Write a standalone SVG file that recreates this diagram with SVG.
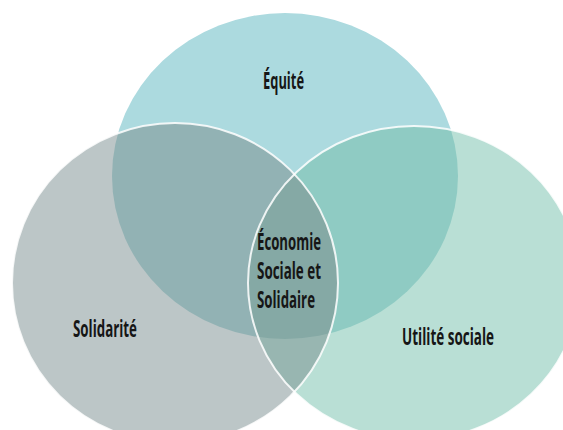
<svg xmlns="http://www.w3.org/2000/svg" width="563" height="430" viewBox="0 0 563 430">
  <style>
    .lbl { font-family: "Liberation Sans Narrow", "Open Sans", "Liberation Sans", sans-serif; font-weight: bold; font-size: 23px; fill: #161616; }
    .edge { fill: none; stroke: #ffffff; stroke-width: 2; stroke-opacity: 0.85; }
  </style>
  <defs>
    <clipPath id="clipTop"><ellipse cx="285" cy="176" rx="173" ry="163"/></clipPath>
    <clipPath id="clipLeft"><ellipse cx="175" cy="283" rx="163" ry="160"/></clipPath>
    <clipPath id="clipRight"><ellipse cx="414" cy="283" rx="166" ry="157"/></clipPath>
  </defs>
  <rect width="563" height="430" fill="#ffffff"/>

  <g id="node-equite">
    <ellipse cx="285" cy="176" rx="173" ry="163" fill="#ACDADF"/>
  </g>
  <g id="node-solidarite">
    <ellipse cx="175" cy="283" rx="163" ry="160" fill="#BCC6C7"/>
  </g>
  <g id="node-utilite-sociale">
    <ellipse cx="414" cy="283" rx="166" ry="157" fill="#B9DFD5"/>
  </g>

  <g id="overlaps">
    <ellipse cx="175" cy="283" rx="163" ry="160" fill="#92B2B4" clip-path="url(#clipTop)"/>
    <ellipse cx="414" cy="283" rx="166" ry="157" fill="#8FCBC3" clip-path="url(#clipTop)"/>
    <ellipse cx="414" cy="283" rx="166" ry="157" fill="#98B6B1" clip-path="url(#clipLeft)"/>
  </g>

  <g id="node-ess">
    <g clip-path="url(#clipTop)">
      <ellipse cx="414" cy="283" rx="166" ry="157" fill="#85A9A5" clip-path="url(#clipLeft)"/>
    </g>
  </g>

  <g id="outlines">
    <ellipse class="edge" cx="175" cy="283" rx="163" ry="160"/>
    <ellipse class="edge" cx="414" cy="283" rx="166" ry="157"/>
  </g>

  <g id="connectors"/>

  <g id="labels">
    <text class="lbl" x="263" y="89" textLength="41" lengthAdjust="spacingAndGlyphs">Équité</text>
    <text class="lbl" x="73" y="337" textLength="64" lengthAdjust="spacingAndGlyphs">Solidarité</text>
    <text class="lbl" x="402" y="345" textLength="92" lengthAdjust="spacingAndGlyphs">Utilité sociale</text>
    <text class="lbl" x="257" y="250" textLength="64" lengthAdjust="spacingAndGlyphs">Économie</text>
    <text class="lbl" x="257" y="279" textLength="64" lengthAdjust="spacingAndGlyphs">Sociale et</text>
    <text class="lbl" x="257" y="308" textLength="58" lengthAdjust="spacingAndGlyphs">Solidaire</text>
  </g>
</svg>
